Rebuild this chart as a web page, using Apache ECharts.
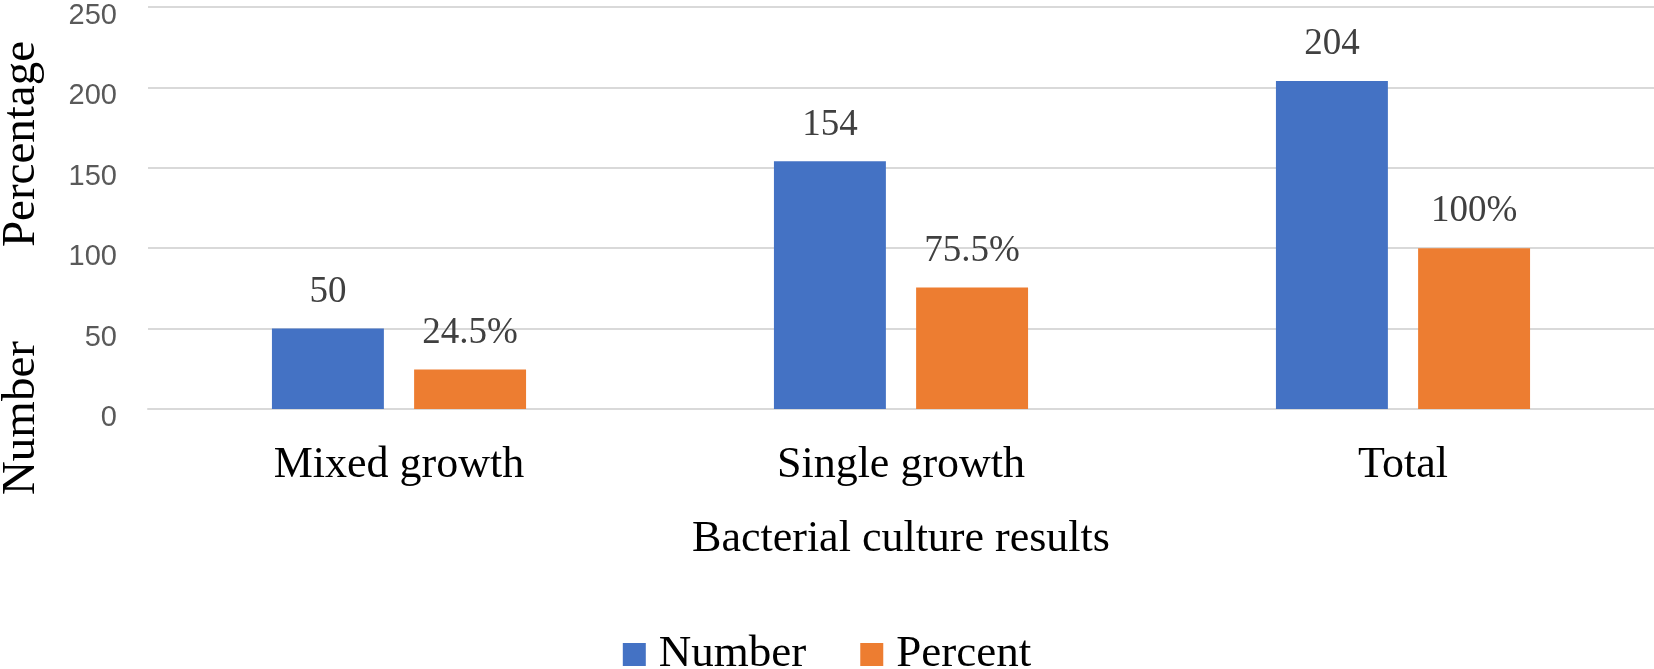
<!DOCTYPE html>
<html>
<head>
<meta charset="utf-8">
<script src="https://cdn.jsdelivr.net/npm/echarts@6/dist/echarts.min.js"></script>
<style>
  html, body { margin: 0; padding: 0; background: #ffffff; }
  #chart { width: 1654px; height: 669px; }
</style>
</head>
<body>
<div id="chart"></div>
<script>
const categories = ['Mixed growth', 'Single growth', 'Total'];
const numberValues = [50, 154, 204];
const percentValues = [24.5, 75.5, 100];
const yTicks = { min: 0, max: 250, interval: 50 };

const serif = '"Liberation Serif", "Times New Roman", serif';
const chart = echarts.init(document.getElementById('chart'), null, { renderer: 'canvas' });

const option = {
  animation: false,
  backgroundColor: '#ffffff',
  grid: { left: 148, right: 0, top: 7, bottom: 260, containLabel: false, outerBoundsMode: 'none' },
  legend: {
    data: ['Number', 'Percent'],
    left: 'center',
    top: 632,
    padding: 0,
    icon: 'rect',
    itemWidth: 23,
    itemHeight: 23,
    itemGap: 54,
    textStyle: { fontFamily: serif, fontSize: 45, color: '#000000', padding: [0, 0, 0, 8] }
  },
  xAxis: {
    type: 'category',
    data: categories,
    name: 'Bacterial culture results',
    nameLocation: 'middle',
    nameGap: 108,
    nameTextStyle: { fontFamily: serif, fontSize: 44, color: '#000000' },
    axisLine: { show: true, lineStyle: { color: '#d9d9d9', width: 2 } },
    axisTick: { show: false },
    axisLabel: { fontFamily: serif, fontSize: 44, color: '#000000', margin: 34 }
  },
  yAxis: {
    type: 'value',
    min: yTicks.min,
    max: yTicks.max,
    interval: yTicks.interval,
    axisLine: { show: false },
    axisTick: { show: false },
    axisLabel: {
      fontFamily: '"Liberation Sans", Arial, sans-serif', fontSize: 29, color: '#595959',
      margin: 31, verticalAlign: 'top', lineHeight: 18
    },
    splitLine: { show: true, lineStyle: { color: '#d9d9d9', width: 2 } }
  },
  graphic: [{
    type: 'text',
    x: 22,
    y: 268,
    rotation: Math.PI / 2,
    style: {
      text: 'Number        Percentage',
      fontFamily: serif,
      fontSize: 47,
      fill: '#000000',
      textAlign: 'center',
      textVerticalAlign: 'middle'
    }
  }],
  series: [
    {
      name: 'Number',
      type: 'bar',
      data: numberValues,
      barWidth: '22.3%',
      barGap: '27%',
      itemStyle: { color: '#4472C4' },
      label: { show: true, position: 'top', distance: 18, fontFamily: serif, fontSize: 37, color: '#404040' }
    },
    {
      name: 'Percent',
      type: 'bar',
      data: percentValues,
      barWidth: '22.3%',
      itemStyle: { color: '#ED7D31' },
      label: { show: true, position: 'top', distance: 18, fontFamily: serif, fontSize: 37, color: '#404040', formatter: '{c}%' }
    }
  ]
};
chart.setOption(option);
</script>
</body>
</html>
